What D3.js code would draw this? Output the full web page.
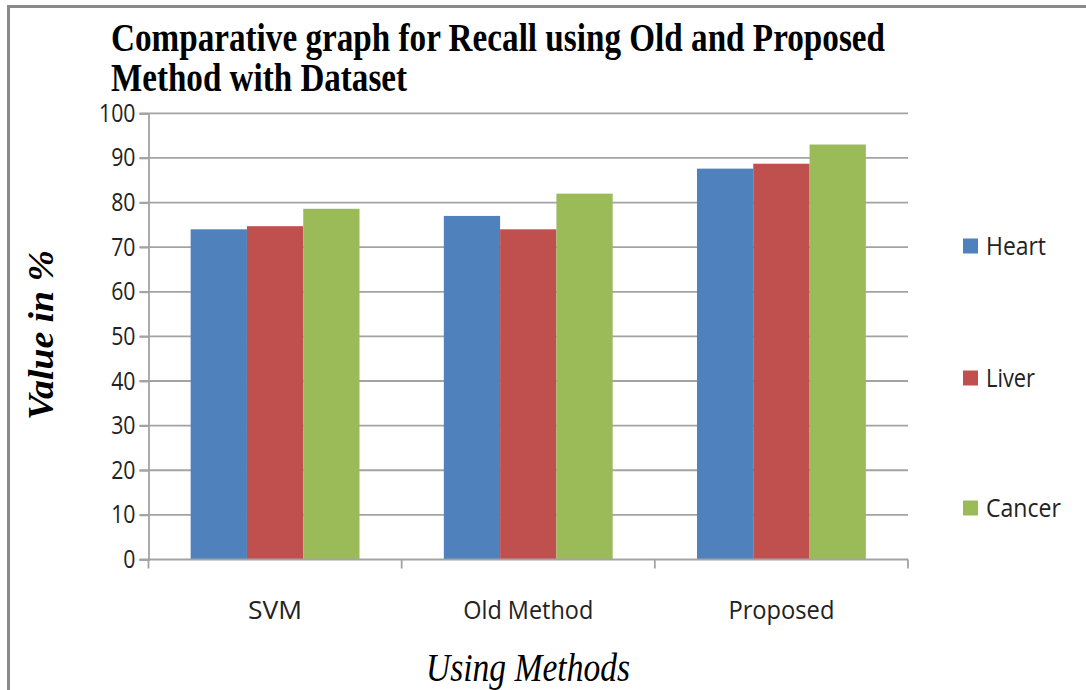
<!DOCTYPE html>
<html>
<head>
<meta charset="utf-8">
<script src="https://cdn.jsdelivr.net/npm/d3@7"></script>
<style>
  html, body { margin: 0; padding: 0; background: #fff; }
  svg { display: block; }
</style>
</head>
<body>
<svg id="chart" width="1086" height="690"></svg>
<script>
// Recall (%) per method and dataset
const methods = ["SVM", "Old Method", "Proposed"];
const datasets = ["Heart", "Liver", "Cancer"];
const heart = [74, 77, 87.6];
const liver = [74.7, 74, 88.7];
const cancer = [78.6, 82, 93];
const yTicks = [0, 10, 20, 30, 40, 50, 60, 70, 80, 90, 100];
const colors = ["#4f81bd", "#c0504d", "#9bbb59"];

const series = [heart, liver, cancer];

const svg = d3.select("#chart");
const W = 1086, H = 690;

// outer frame (top and left edges)
svg.append("line").attr("x1", 7).attr("x2", W).attr("y1", 6.5).attr("y2", 6.5)
  .attr("stroke", "#8a8a8a").attr("stroke-width", 3);
svg.append("line").attr("x1", 8.5).attr("x2", 8.5).attr("y1", 5).attr("y2", H)
  .attr("stroke", "#8a8a8a").attr("stroke-width", 3);

const plot = { left: 148.5, right: 908, top: 113.3, bottom: 559.5 };

const x0 = d3.scaleBand().domain(methods).range([plot.left, plot.right])
  .paddingInner(0.333).paddingOuter(0.1665);
const x1 = d3.scaleBand().domain(datasets).range([0, x0.bandwidth()]).padding(0);
const y = d3.scaleLinear().domain([0, 100]).range([plot.bottom, plot.top]);

// horizontal gridlines with left tick stubs
const gridG = svg.append("g");
gridG.selectAll("line.grid").data(yTicks.filter(d => d > 0)).join("line")
  .attr("class", "grid")
  .attr("x1", plot.left - 9).attr("x2", plot.right)
  .attr("y1", d => y(d)).attr("y2", d => y(d))
  .attr("stroke", "#a3a3a3").attr("stroke-width", 1.8);

// bars
const groups = svg.append("g").selectAll("g").data(methods).join("g")
  .attr("transform", m => `translate(${x0(m)},0)`);
groups.selectAll("rect").data((m, i) => datasets.map((ds, j) => ({ ds, v: series[j][i], j })))
  .join("rect")
  .attr("x", d => x1(d.ds))
  .attr("width", x1.bandwidth())
  .attr("y", d => y(d.v))
  .attr("height", d => y(0) - y(d.v))
  .attr("fill", d => colors[d.j]);

// y axis
const yAxis = d3.axisLeft(y).tickValues(yTicks).tickSize(9).tickPadding(6);
const yg = svg.append("g").attr("transform", `translate(${plot.left},0)`).call(yAxis);
yg.select(".domain").attr("stroke", "#a3a3a3").attr("stroke-width", 1.8);
yg.selectAll(".tick line").attr("stroke", "#a3a3a3").attr("stroke-width", 1.8);
const tickScale = 0.85;
yg.selectAll(".tick text")
  .attr("font-family", "'Open Sans', sans-serif")
  .attr("font-size", 25).attr("fill", "#222")
  .attr("transform", `scale(${tickScale},1)`)
  .attr("x", -13 / tickScale)
  .style("text-anchor", "end");

// x axis baseline with category separators
const xg = svg.append("g");
xg.append("line").attr("x1", plot.left - 9).attr("x2", plot.right)
  .attr("y1", plot.bottom).attr("y2", plot.bottom)
  .attr("stroke", "#a3a3a3").attr("stroke-width", 1.8);
const seps = methods.map(m => x0(m) - x0.step() * x0.paddingInner() / 2);
seps.push(plot.right);
seps[0] = plot.left;
xg.selectAll("line.sep").data(seps).join("line").attr("class", "sep")
  .attr("x1", d => d).attr("x2", d => d)
  .attr("y1", plot.bottom).attr("y2", plot.bottom + 9)
  .attr("stroke", "#a3a3a3").attr("stroke-width", 1.8);
xg.selectAll("text.cat").data(methods).join("text").attr("class", "cat")
  .attr("x", m => x0(m) + x0.bandwidth() / 2)
  .attr("y", 619)
  .attr("text-anchor", "middle")
  .attr("font-family", "'Open Sans', sans-serif")
  .attr("font-size", 25).attr("fill", "#222")
  .attr("textLength", (m, i) => [54, 130, 106][i])
  .attr("lengthAdjust", "spacingAndGlyphs")
  .text(m => m);

// title, two lines
const title = svg.append("text")
  .attr("font-family", "'Liberation Serif', 'Times New Roman', serif")
  .attr("font-weight", "bold").attr("font-size", 40).attr("fill", "#000");
title.append("tspan").attr("x", 111).attr("y", 51)
  .attr("textLength", 774).attr("lengthAdjust", "spacingAndGlyphs")
  .text("Comparative graph for Recall using Old and Proposed");
title.append("tspan").attr("x", 111).attr("y", 91)
  .attr("textLength", 296).attr("lengthAdjust", "spacingAndGlyphs")
  .text("Method with Dataset");

// axis titles
svg.append("text")
  .attr("transform", "translate(53,335) rotate(-90)")
  .attr("text-anchor", "middle")
  .attr("font-family", "'Liberation Serif', 'Times New Roman', serif")
  .attr("font-style", "italic").attr("font-weight", "bold")
  .attr("font-size", 36).attr("fill", "#000")
  .attr("textLength", 170).attr("lengthAdjust", "spacingAndGlyphs")
  .text("Value in %");

svg.append("text")
  .attr("x", 528).attr("y", 681)
  .attr("text-anchor", "middle")
  .attr("font-family", "'Liberation Serif', 'Times New Roman', serif")
  .attr("font-style", "italic")
  .attr("font-size", 40).attr("fill", "#000")
  .attr("textLength", 204).attr("lengthAdjust", "spacingAndGlyphs")
  .text("Using Methods");

// legend
const legY = [246, 378, 508];
const leg = svg.append("g").selectAll("g").data(datasets).join("g")
  .attr("transform", (d, i) => `translate(963,${legY[i]})`);
leg.append("rect").attr("x", 0).attr("y", -7.5).attr("width", 15).attr("height", 15)
  .attr("fill", (d, i) => colors[i]);
leg.append("text").attr("x", 23).attr("y", 0).attr("dy", "0.36em")
  .attr("font-family", "'Open Sans', sans-serif")
  .attr("font-size", 26).attr("fill", "#222")
  .attr("textLength", (d, i) => [60, 49, 75][i])
  .attr("lengthAdjust", "spacingAndGlyphs")
  .text(d => d);
</script>
</body>
</html>
